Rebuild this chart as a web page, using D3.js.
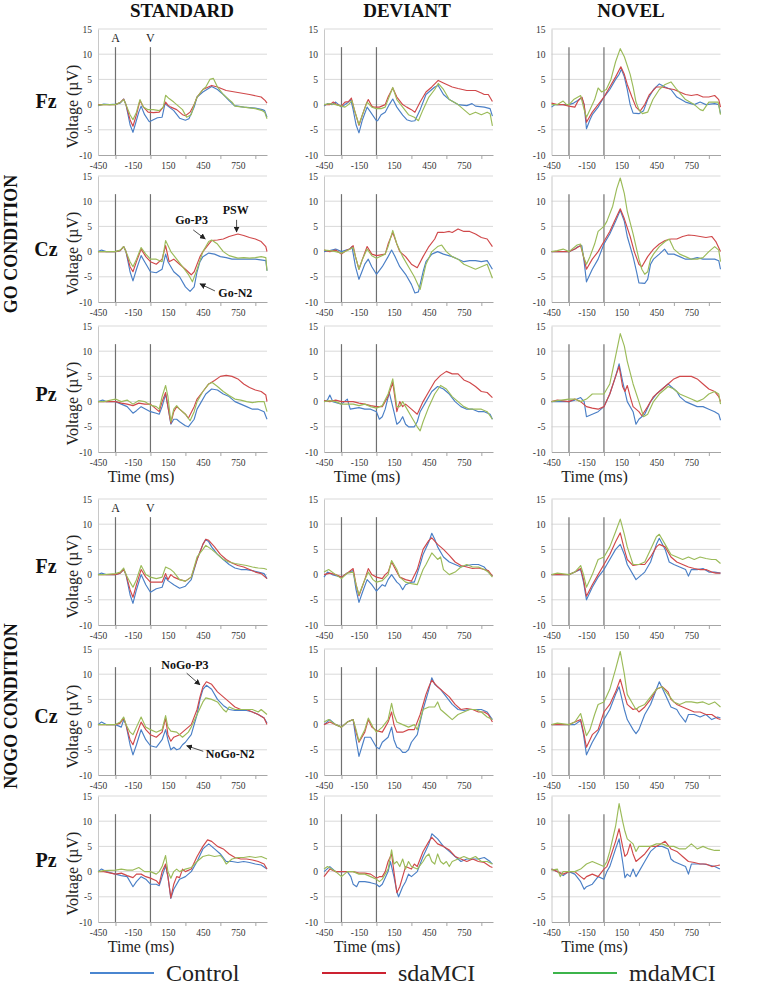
<!DOCTYPE html>
<html><head><meta charset="utf-8">
<script src="https://cdn.jsdelivr.net/npm/d3@7"></script>
<style>body{margin:0;background:#fff} svg{display:block}</style>
</head><body><svg id="chart" width="762" height="988"></svg>
<script>
// ---------- categories & labels ----------
const CONDITIONS = ["GO CONDITION", "NOGO CONDITION"];
const STIM_TYPES = ["STANDARD", "DEVIANT", "NOVEL"];
const ELECTRODES = ["Fz", "Cz", "Pz"];
const SERIES = ["Control", "sdaMCI", "mdaMCI"];
const Y_TICKS = [-10, -5, 0, 5, 10, 15];
const X_TICK_LABELS = [-450, -150, 150, 450, 750];
const X_TICK_MARKS = [-300, 0, 300, 600, 900];
const STIMULI = [["A", -300], ["V", 0]];
const STIM_LINE_TOP = 11.4;
const ANNOTATIONS_GO = [["Go-P3", 353, 6.3, 367, 4.3, 470, 2.5], ["PSW", 731, 8.2, 739, 6.3, 739, 3.9], ["Go-N2", 728, -8.2, 553, -7.8, 425, -6.4]];
const ANNOTATIONS_NOGO = [["NoGo-P3", 296, 11.8, 311, 10.2, 425, 7.9], ["NoGo-N2", 684, -5.8, 453, -5.3, 311, -4.2]];

// ---------- series values: [time ms, voltage µV] ----------
const GO_STD_FZ_CTRL=[[-450,-0.2],[-400,0.1],[-350,0],[-300,0.1],[-260,0.3],[-230,1.1],[-210,0],[-175,-4],[-150,-5.5],[-125,-3.5],[-100,-1.5],[-80,-0.3],[-50,-2],[-10,-3.4],[25,-3],[60,-2.6],[100,-2.5],[125,0.2],[150,-0.3],[200,-1.2],[250,-2.7],[300,-3.1],[330,-2.8],[375,-0.5],[400,1.5],[450,2.5],[525,3.6],[575,3],[625,2],[675,0.8],[720,-0.2],[800,-0.5],[900,-0.7],[960,-1],[980,-1.2],[1000,-2.5]];
const GO_STD_FZ_SDA=[[-450,0],[-400,0],[-350,0],[-300,0],[-260,0.4],[-230,1.1],[-210,0],[-175,-3],[-150,-4.3],[-120,-2],[-90,0.8],[-60,-0.5],[-20,-1.5],[25,-1.6],[75,-1.5],[110,-0.5],[130,0.5],[150,-0.1],[175,-0.5],[225,-1],[275,-2],[300,-2.2],[340,-1.5],[375,0],[400,1.5],[450,3],[525,3.8],[575,3.5],[650,2.8],[700,2.6],[750,2.4],[800,2.2],[850,2],[950,1.5],[985,0.8],[1000,0.3]];
const GO_STD_FZ_MDA=[[-450,-0.1],[-400,0],[-350,0],[-300,0],[-260,0.4],[-230,1],[-210,0],[-175,-2],[-150,-3],[-120,-1.5],[-90,1],[-60,-0.5],[-20,-1],[25,-1],[75,-1.2],[110,-0.5],[130,1.85],[160,1.2],[200,0.5],[225,0],[275,-1],[310,-2.5],[350,-2],[375,0],[400,1.5],[450,3],[475,3.5],[510,5],[540,5.2],[575,3.5],[625,2],[675,1],[700,0.5],[725,-0.3],[800,-0.5],[900,-0.8],[960,-1.2],[980,-1.5],[1000,-2.8]];
const GO_DEV_FZ_CTRL=[[-450,-0.3],[-420,0.2],[-380,0],[-350,0.5],[-300,-0.5],[-270,0],[-250,0.3],[-220,1],[-200,-1],[-175,-4],[-150,-5.6],[-120,-3],[-80,-0.5],[-50,-1.5],[0,-3.2],[10,-3.2],[40,-2],[75,-1.5],[110,0],[140,1.1],[175,-0.5],[225,-2.1],[260,-3],[300,-3.3],[330,-3.2],[375,-1],[425,2],[475,3],[500,3.5],[530,3.8],[575,2],[625,1],[700,0],[775,-0.2],[820,0.2],[850,-0.3],[925,-0.5],[975,-0.8],[995,-2.3]];
const GO_DEV_FZ_SDA=[[-450,0],[-400,0],[-370,0.5],[-340,0],[-300,-0.3],[-270,0.5],[-240,0.6],[-215,1.3],[-190,-1],[-150,-4.1],[-120,-2],[-90,0],[-70,1],[-40,-0.3],[-25,-0.5],[25,-0.5],[75,0],[100,1.5],[140,3.3],[175,1.5],[225,0],[260,-0.5],[300,-1],[330,-1.5],[375,0.5],[425,2.5],[475,3.5],[530,4.8],[575,4.3],[650,3.5],[700,3.2],[775,2.8],[850,2.8],[900,2.3],[925,2],[960,2],[995,0.6]];
const GO_DEV_FZ_MDA=[[-450,0],[-400,0.2],[-350,0],[-300,-0.3],[-270,-0.5],[-240,0],[-210,0.8],[-190,-1],[-150,-4],[-120,-2],[-80,0.5],[-40,-0.5],[0,-0.8],[40,-0.8],[75,-0.5],[100,1],[140,3.4],[175,1],[225,-0.5],[275,-2],[325,-2.5],[360,-3.2],[400,-1],[450,1.5],[500,3],[530,4.2],[575,3],[625,1],[700,0],[750,-1],[800,-2],[850,-1.5],[900,-2],[950,-1.5],[975,-1.8],[995,-4.2]];
const GO_NOV_FZ_CTRL=[[-450,-0.5],[-420,0],[-350,0],[-300,0],[-260,0.3],[-225,0.8],[-190,1.4],[-170,0],[-150,-4.8],[-120,-3],[-100,-2],[-50,-0.5],[0,1.5],[50,3],[100,5],[130,6],[150,7],[175,5.5],[200,3],[225,0],[250,-1.7],[300,-1.8],[340,-1.2],[375,1],[425,3],[475,4.1],[525,3.5],[575,3],[625,1.5],[700,0.5],[775,0],[825,0.5],[875,0],[950,0.2],[985,0],[1000,-1.8]];
const GO_NOV_FZ_SDA=[[-450,0.3],[-400,0],[-350,0],[-300,-0.3],[-250,-0.5],[-220,0.8],[-190,1.5],[-170,0],[-150,-3.5],[-100,-1.5],[-50,0],[0,1.5],[50,3.5],[100,5.5],[145,7.5],[175,6],[200,4],[240,1.5],[275,-0.5],[310,-1.3],[350,0],[390,2],[450,3.5],[500,3.5],[550,3.2],[600,3],[650,2.5],[700,2],[750,1.8],[800,2],[850,1.5],[900,1.5],[950,1.8],[985,1],[1000,-0.5]];
const GO_NOV_FZ_MDA=[[-450,0],[-400,0],[-350,0.7],[-320,0],[-300,0],[-260,1],[-200,1.8],[-170,-1],[-150,-2.5],[-120,-1],[-80,1],[-50,3.3],[-20,2.5],[20,3],[60,5],[100,8.5],[140,11.1],[175,9.5],[225,6],[250,3.5],[275,0.5],[300,-1],[330,-1.8],[375,-1.5],[420,1],[475,3],[525,4],[575,4.5],[625,3],[700,1],[775,0],[825,-1],[850,-1.2],[900,0.5],[950,0.5],[980,0.5],[1000,-2]];
const GO_STD_CZ_CTRL=[[-450,0],[-420,0.3],[-380,0],[-300,0],[-260,0.2],[-230,1],[-210,0],[-175,-4],[-150,-5.8],[-120,-3.5],[-80,-0.8],[-50,-2],[0,-4],[50,-4.2],[100,-3.5],[130,-0.5],[150,-2],[200,-4],[250,-5],[300,-7],[340,-7.9],[375,-7],[400,-4],[425,-2],[450,-1],[500,-0.3],[550,-0.5],[600,-1],[650,-1.2],[700,-1.5],[800,-1.5],[900,-1.5],[990,-1.8],[1000,-3.8]];
const GO_STD_CZ_SDA=[[-450,0],[-400,0],[-300,0],[-260,0.2],[-230,1],[-210,0],[-175,-3],[-150,-4],[-120,-2],[-80,0.5],[-40,-1],[0,-2],[50,-2.5],[100,-1.5],[130,1.2],[160,-2],[200,-1.5],[250,-2.5],[300,-3.5],[350,-4.6],[375,-4],[425,-1],[450,0],[500,1.5],[525,2.2],[575,2.3],[625,2.5],[675,3],[750,3.5],[800,3.2],[850,2.8],[900,2.5],[950,2],[990,1],[1000,0]];
const GO_STD_CZ_MDA=[[-450,0],[-400,0],[-300,0],[-260,0.3],[-230,1],[-210,0],[-175,-2],[-150,-3],[-120,-1.5],[-80,0.8],[-40,-0.5],[0,-1.5],[50,-1.5],[100,-2],[130,2.2],[175,0],[225,-1.5],[275,-3],[325,-4.5],[360,-6],[400,-3.5],[450,0],[500,2],[525,2.3],[575,1.5],[625,0],[675,-0.8],[750,-1.3],[800,-1.2],[850,-1.3],[900,-1.2],[950,-1],[990,-1.2],[1000,-3.8]];
const GO_DEV_CZ_CTRL=[[-450,0],[-400,0.2],[-350,0.5],[-300,0],[-260,0.3],[-230,0.5],[-210,1],[-180,-3],[-150,-5.5],[-100,-2.5],[-70,-1.5],[-40,-3],[0,-4.5],[50,-3],[100,-1],[130,0.3],[160,-1],[200,-3],[250,-4.5],[300,-6.5],[330,-8.2],[360,-8],[400,-4],[425,-2],[475,-0.5],[525,0],[575,-0.5],[650,-1],[700,-1.5],[750,-2],[800,-1.8],[850,-1.8],[900,-2],[950,-1.8],[995,-3.5]];
const GO_DEV_CZ_SDA=[[-450,0.3],[-400,0],[-350,0.3],[-300,-0.5],[-260,0.2],[-230,0.5],[-200,1.2],[-180,-1],[-150,-3.5],[-120,-1.5],[-80,1],[-40,-0.5],[0,-0.8],[75,-0.5],[100,1.5],[140,3.8],[175,1.5],[200,0],[250,-1],[300,-2.5],[350,-3.2],[400,-1],[450,1],[500,2.5],[525,3.8],[575,3.8],[625,4],[650,3.8],[700,4.5],[750,4],[800,4],[850,3.5],[900,2.8],[950,2.5],[995,1]];
const GO_DEV_CZ_MDA=[[-450,0.3],[-400,0.2],[-350,0],[-300,-0.3],[-250,0.2],[-200,0.8],[-180,-1],[-150,-3.5],[-120,-1.5],[-80,0.5],[-40,-0.8],[0,-1.3],[75,-0.5],[100,1],[140,4.2],[175,1.5],[225,-1],[275,-3],[325,-5],[375,-7.5],[400,-5],[425,-2.5],[475,0],[525,1],[560,1.3],[600,0],[650,-1],[700,-1.5],[750,-2.5],[800,-3],[850,-3.5],[900,-3],[950,-2.5],[995,-5.3]];
const GO_NOV_CZ_CTRL=[[-450,0],[-400,0],[-300,0],[-250,0.5],[-220,1],[-190,1.2],[-170,-2],[-150,-6],[-100,-3.5],[-50,-1.5],[0,1.5],[50,3.5],[100,6],[140,8.2],[175,6],[200,3],[250,-1],[280,-4],[300,-6.2],[350,-6.3],[375,-5.5],[400,-2.5],[425,-1.5],[475,-0.5],[520,0.5],[550,-0.5],[600,-0.5],[650,-1],[700,-1.5],[750,-1.5],[800,-1.2],[850,-1.5],[900,-1.5],[950,-1.5],[985,-1.8],[1000,-3.5]];
const GO_NOV_CZ_SDA=[[-450,0],[-400,0],[-300,0],[-250,0.5],[-200,1.2],[-175,-1],[-150,-3.5],[-100,-1.5],[-50,0],[0,2],[50,4],[100,6.5],[140,8.5],[175,6.5],[225,3],[260,0],[300,-2.5],[325,-3],[375,-1],[425,0.5],[475,1.5],[525,2.2],[575,2.5],[625,2.5],[675,3],[725,3.3],[775,3.2],[825,3],[875,2.8],[925,3],[960,2],[1000,0]];
const GO_NOV_CZ_MDA=[[-450,0],[-400,0.2],[-350,0.5],[-300,0],[-230,1.3],[-200,1.5],[-175,-1],[-150,-2.5],[-120,-1],[-80,1.5],[-50,4],[0,5],[25,6],[75,9],[110,12.5],[140,14.6],[175,11.5],[200,8],[250,3.5],[300,-1.5],[325,-3.5],[350,-4.5],[375,-4],[400,-1.5],[425,-0.5],[475,1],[525,2],[560,2.5],[600,0.5],[650,-0.5],[700,-1],[750,-1.5],[800,-1.5],[850,-1.2],[900,0],[950,1],[985,0.3],[1000,-2]];
const GO_STD_PZ_CTRL=[[-450,0],[-410,0.3],[-380,0],[-300,0],[-250,-0.5],[-200,-1],[-150,-2.3],[-120,-1.8],[-80,-1],[-40,-1.5],[0,-2],[50,-2.3],[75,-2.5],[100,-1],[130,1.5],[150,-1],[175,-4.5],[200,-3.5],[225,-3.5],[250,-4],[300,-4.8],[325,-5],[375,-3.5],[400,-1.5],[425,-0.5],[475,1.5],[525,2.5],[575,2.3],[625,1.5],[675,1],[725,0],[775,-0.5],[825,-1],[875,-1.5],[925,-1.5],[975,-2],[1000,-3.5]];
const GO_STD_PZ_SDA=[[-450,0],[-400,0],[-300,0],[-250,-0.3],[-200,-0.5],[-150,-0.8],[-100,-0.3],[-50,-0.5],[0,-0.5],[50,-1.5],[75,-2],[100,0],[130,1.8],[150,-1],[175,-4.3],[200,-2],[225,-1],[250,-1.5],[300,-2.5],[325,-3.3],[375,-1],[400,0.5],[450,2],[500,3.5],[550,4.2],[600,5],[650,5.2],[700,5],[750,4.5],[800,3.5],[850,2.8],[900,2.3],[950,2],[990,1.3],[1000,0]];
const GO_STD_PZ_MDA=[[-450,0],[-400,0],[-300,0.5],[-250,0],[-200,0.3],[-150,-0.5],[-100,0.2],[-50,0],[0,-0.7],[50,-1],[75,-1.5],[100,1],[130,3.2],[150,1],[175,-4],[200,-1.5],[225,-0.8],[250,-1.5],[300,-2.5],[340,-3.8],[375,-2],[400,0],[450,2],[500,3.5],[530,3.8],[575,3],[625,2],[675,1.2],[725,0.5],[775,0.3],[825,0],[875,-0.2],[925,0],[975,0],[1000,-2]];
const GO_DEV_PZ_CTRL=[[-450,0],[-420,0.3],[-400,1.3],[-375,0],[-300,-0.5],[-250,0.5],[-225,-1.5],[-150,-1.2],[-100,-1.5],[-50,-1.5],[0,-2],[25,-3.5],[50,-3],[75,-1.5],[110,1.8],[150,-2],[175,-4.5],[200,-4],[225,-3],[250,-4.5],[275,-5],[325,-5],[350,-4],[375,-2],[425,0],[475,2],[525,3],[575,2.5],[625,1.5],[675,0],[725,-1],[775,-1.5],[825,-1.5],[875,-2],[925,-2],[975,-2.5],[995,-3.5]];
const GO_DEV_PZ_SDA=[[-450,0.2],[-400,0],[-350,0.3],[-300,0],[-200,0],[-150,-0.3],[-100,-0.5],[-50,-0.8],[0,-1],[50,-1],[100,1],[140,3.8],[175,-2],[200,0],[225,-1],[250,-0.5],[300,-1.5],[350,-2.5],[400,0],[450,2],[500,4],[550,5.2],[600,6],[650,5.5],[700,5.5],[750,4.3],[800,3.8],[850,3],[900,2],[950,1.8],[995,0.8]];
const GO_DEV_PZ_MDA=[[-450,0],[-400,0.2],[-350,0],[-300,-0.5],[-200,-0.5],[-150,-0.8],[-100,-0.5],[-50,-1],[0,-1.3],[50,-0.8],[100,1.5],[140,4.5],[175,-1],[200,-1],[225,0],[250,-1],[300,-3],[350,-5],[375,-5.8],[400,-4],[450,-1],[500,1.5],[550,3.2],[600,2.5],[650,1],[700,0],[750,-1],[800,-1.5],[850,-1.5],[900,-1.5],[950,-2],[995,-3.5]];
const GO_NOV_PZ_CTRL=[[-450,0],[-400,0],[-300,0],[-250,0.3],[-200,0.8],[-170,0],[-150,-3],[-100,-2.5],[-50,-2],[0,-1],[50,1.5],[100,5],[130,7.5],[160,4],[200,0],[250,-2],[275,-4.5],[300,-3.5],[325,-3],[350,-2.5],[400,0],[450,1.5],[500,2.5],[550,3.5],[575,3],[625,2],[650,1],[700,0],[750,-0.5],[800,-1],[850,-1],[900,-1.5],[950,-2],[985,-2.5],[1000,-3.7]];
const GO_NOV_PZ_SDA=[[-450,0],[-400,0.3],[-300,0],[-250,0.5],[-200,0],[-150,-1],[-100,-1.3],[-50,-1.5],[0,-1],[50,1.5],[100,5],[130,7],[160,3],[180,2],[200,3.2],[225,1],[250,-1],[300,-2],[325,-2.8],[375,-1],[425,1],[475,2],[550,3.5],[600,4.5],[650,5],[700,5],[750,5],[800,4.5],[850,3.5],[900,2.5],[950,2],[985,1],[1000,0]];
const GO_NOV_PZ_MDA=[[-450,0],[-400,0.2],[-300,0.5],[-250,0.5],[-200,0],[-150,0.5],[-100,1.5],[-50,1.5],[0,1.5],[50,3.5],[100,9],[140,13.5],[175,11],[200,8],[250,3.5],[300,0],[340,-3],[375,-2.5],[425,0],[475,1.5],[550,3],[600,2.5],[650,1.5],[700,1],[750,0.5],[800,0],[850,0.5],[900,1.5],[950,2],[985,1.5],[1000,-0.5]];

const NOGO_STD_FZ_CTRL=[[-450,0],[-420,0.3],[-380,0],[-300,0],[-260,0.3],[-230,1],[-210,0],[-175,-4],[-150,-5.7],[-120,-3],[-80,0],[-40,-2],[0,-3.5],[50,-2.8],[100,-2.5],[130,-0.5],[150,-1.2],[200,-2],[250,-2.7],[300,-2.3],[350,-1],[400,3],[425,4.5],[450,6],[475,7],[500,6.5],[525,5.5],[575,4],[625,3],[675,2],[725,1.3],[775,1],[825,1],[875,0.8],[925,0.5],[975,0.2],[1000,-0.8]];
const NOGO_STD_FZ_SDA=[[-450,0],[-400,0],[-300,0],[-260,0.3],[-230,1],[-210,0],[-175,-3],[-150,-4.5],[-120,-2],[-80,1],[-40,-0.5],[0,-1.5],[50,-1.5],[100,-1.5],[130,0.2],[150,-1],[175,0],[200,-0.5],[250,-1],[300,-1.3],[350,-0.5],[400,3],[450,6],[475,7],[500,6.8],[550,5.5],[600,4],[650,3],[700,2.3],[750,1.8],[800,1.5],[850,1],[900,0.5],[950,0.2],[1000,-0.8]];
const NOGO_STD_FZ_MDA=[[-450,0],[-400,0],[-300,0.2],[-260,0.5],[-230,1.3],[-210,0],[-175,-1.5],[-150,-2.5],[-120,-1],[-80,1.8],[-40,0],[0,-0.5],[50,-0.8],[100,-0.5],[130,1.5],[175,1],[200,0.5],[250,-1],[300,-1.3],[350,-0.5],[400,3.5],[450,5],[475,5.8],[525,5],[575,4],[625,3],[675,2.5],[725,2.2],[775,2],[825,1.8],[875,1.5],[925,1.3],[975,1.2],[1000,1]];
const NOGO_DEV_FZ_CTRL=[[-450,-0.5],[-420,0.5],[-380,0],[-300,-0.5],[-250,0.3],[-200,0.8],[-175,-3],[-150,-5.5],[-120,-3.5],[-80,-1],[-40,-2],[0,-3.3],[50,-2],[75,-2.3],[100,-1],[130,0],[175,-1.5],[200,-2],[225,-3],[250,-2],[300,-1.5],[325,-1.5],[375,2],[400,4],[450,6.5],[475,8.2],[500,7],[525,5.5],[575,3.5],[625,2.5],[675,2],[725,1.5],[775,1.8],[825,2],[875,2],[925,1.5],[960,0.5],[995,-0.3]];
const NOGO_DEV_FZ_SDA=[[-450,0],[-400,0.3],[-350,0],[-300,-0.5],[-250,0.3],[-200,1.2],[-175,-2],[-150,-4.2],[-100,-1],[-70,1.2],[-40,0],[0,-0.5],[50,-0.8],[75,0],[100,0.5],[130,2.5],[175,0.5],[200,-0.5],[250,-1],[300,-1.3],[350,1],[400,5],[450,6.8],[475,7.3],[525,6],[575,5],[625,3.8],[675,2.5],[725,1.8],[775,1.5],[825,1.2],[875,1.3],[925,1],[960,0.8],[995,-0.3]];
const NOGO_DEV_FZ_MDA=[[-450,0.5],[-410,1],[-350,0],[-300,-0.8],[-250,0.3],[-200,0.5],[-175,-2],[-150,-4],[-100,-1],[-70,0.5],[-30,-1],[0,-1.5],[50,-1.2],[100,0],[130,2.8],[175,1],[200,-0.5],[250,-1.5],[300,-1.8],[350,-2],[400,1],[425,2],[475,4.3],[525,3],[550,3.5],[575,1],[625,0],[675,0.5],[725,1.5],[775,2],[825,1.5],[875,1.5],[925,1],[960,0.5],[995,-0.5]];
const NOGO_NOV_FZ_CTRL=[[-450,0],[-400,0],[-300,0],[-250,0.5],[-200,1],[-175,-1.5],[-150,-5],[-100,-2.5],[-50,-0.5],[0,1],[50,3],[100,5],[140,6],[175,4],[200,2],[250,0],[275,-1],[300,-0.5],[350,0.5],[400,2.5],[450,6],[475,7.2],[525,5],[560,2.5],[600,2],[650,1.5],[700,1],[725,-0.3],[750,1],[800,1],[850,1.2],[900,0.5],[950,0.5],[1000,0.3]];
const NOGO_NOV_FZ_SDA=[[-450,0],[-400,0],[-300,0],[-250,0.5],[-200,1.2],[-175,-1],[-150,-4.3],[-100,-2],[-50,0],[0,2],[50,4],[100,6.5],[140,8.3],[175,5],[200,3],[250,1.8],[300,2],[350,2],[400,3.5],[450,5.5],[475,6],[525,5.5],[575,3.5],[625,2.5],[675,2],[725,1.5],[775,1.2],[825,1],[875,1],[925,0.5],[960,0.3],[1000,0.3]];
const NOGO_NOV_FZ_MDA=[[-450,0],[-400,0.3],[-300,0],[-250,0.5],[-200,1.8],[-175,0],[-150,-2.5],[-100,0],[-50,3],[0,3.5],[50,5.5],[100,8.5],[140,11],[175,8],[200,5.5],[250,2],[300,2],[350,2.5],[400,5],[450,7.5],[475,8],[525,6],[575,4],[625,3.5],[675,3],[725,3.5],[775,3],[825,3.5],[875,3.2],[925,3],[960,3],[1000,2.2]];
const NOGO_STD_CZ_CTRL=[[-450,0],[-420,0.5],[-380,0],[-300,0],[-250,-0.5],[-230,1],[-210,0],[-175,-4],[-150,-6],[-120,-4],[-80,-1],[-40,-3],[0,-4.2],[50,-4.5],[100,-3],[130,-1],[150,-3],[175,-5],[200,-4.5],[225,-5],[250,-4.8],[275,-4],[300,-3.5],[350,-2],[400,2],[425,5],[450,7],[480,7.8],[525,7],[575,5],[625,3.8],[675,3],[725,2.8],[775,2.8],[825,2.8],[875,2.5],[925,2],[975,1.3],[1000,0.3]];
const NOGO_STD_CZ_SDA=[[-450,0],[-400,0],[-300,0],[-260,0.3],[-230,1.3],[-210,0],[-175,-3],[-150,-4],[-120,-2],[-80,0.5],[-40,-1],[0,-2],[50,-2.5],[100,-1.5],[130,1.3],[150,-2],[175,-3.3],[200,-2.5],[250,-2],[300,-1],[350,0],[400,3],[425,5.5],[450,7.5],[480,8.5],[525,8],[575,6.5],[625,5.5],[675,4.5],[725,3.5],[775,3],[825,3],[875,2.5],[925,2],[975,1.3],[1000,0]];
const NOGO_STD_CZ_MDA=[[-450,0],[-400,0],[-300,0],[-260,0.5],[-230,1.5],[-210,0],[-175,-1.5],[-150,-2],[-120,-0.5],[-80,1.5],[-40,-0.5],[0,-1],[50,-1.5],[100,-1],[130,1.8],[150,-0.5],[175,-1.3],[225,-1.5],[275,-2.5],[325,-1.5],[350,-0.5],[400,2],[450,4.5],[475,5.3],[525,5],[575,4.5],[625,3],[650,2.5],[675,3.5],[725,3],[775,3],[825,3],[875,3],[925,2.5],[950,3],[975,2.5],[1000,2]];
const NOGO_DEV_CZ_CTRL=[[-450,0],[-400,1],[-350,0],[-300,-0.5],[-250,0.5],[-200,1],[-175,-3],[-150,-6.3],[-120,-4],[-100,-2.5],[-50,-2.5],[0,-4.5],[25,-4.8],[50,-3.5],[100,-2.5],[130,-0.5],[150,-3],[175,-4.5],[200,-4.8],[225,-5.5],[250,-5.5],[275,-5],[300,-3.5],[350,-2],[400,3],[450,7],[475,9.3],[500,8],[550,7],[600,5.5],[650,4],[700,3],[750,2.8],[800,3],[850,3],[900,3],[950,2.5],[995,1]];
const NOGO_DEV_CZ_SDA=[[-450,0],[-400,0.5],[-350,0],[-300,-0.5],[-250,0.5],[-200,1],[-175,-1.5],[-150,-3.5],[-100,-1.5],[-70,1],[-40,-0.5],[0,-1.2],[50,-1.5],[75,-0.5],[100,0.5],[130,2.5],[150,0],[175,-1.5],[225,-1.5],[275,-1],[325,-1],[375,2],[425,6],[450,7.5],[475,8.8],[525,7.5],[575,6.5],[625,5.5],[675,4],[725,3],[775,3.2],[825,3],[875,2.5],[925,2.5],[960,2],[995,0.5]];
const NOGO_DEV_CZ_MDA=[[-450,0.5],[-410,1],[-350,0],[-300,-0.5],[-250,0.5],[-200,1],[-175,-1],[-150,-3.3],[-100,-1],[-70,1.3],[-30,-0.5],[0,-1.5],[50,-0.5],[100,1],[130,4.2],[150,2],[175,0.5],[225,0],[275,-0.5],[325,0],[350,-1],[375,1],[400,3],[450,3.5],[500,3.5],[525,4.5],[550,3],[600,2],[650,1],[700,2],[750,2.5],[800,3],[850,3],[900,2.5],[950,1.5],[995,1]];
const NOGO_NOV_CZ_CTRL=[[-450,0],[-400,0],[-300,0],[-250,0],[-200,0.8],[-175,-2],[-150,-6],[-100,-3.5],[-50,-1.5],[0,1],[50,3],[100,6],[130,7.5],[175,3],[200,1],[250,-1],[275,-1.8],[300,-1],[350,2],[400,4],[450,7],[475,8.5],[525,6],[575,3.5],[625,3],[650,2],[700,0.5],[725,2],[775,2],[825,1.5],[875,2],[925,1],[975,1.5],[1000,1.3]];
const NOGO_NOV_CZ_SDA=[[-450,0],[-400,0],[-300,0],[-250,0.5],[-200,1],[-175,-1.5],[-150,-4.5],[-100,-2],[-50,-1],[0,2.5],[50,4],[100,6.5],[140,9],[175,6],[200,4],[250,3],[275,3.2],[300,2.5],[350,3.5],[400,5],[450,7],[500,7.5],[550,6.5],[575,5],[625,4],[675,3.5],[725,3],[775,2.5],[825,2.5],[875,2],[925,2],[975,1.2],[1000,1]];
const NOGO_NOV_CZ_MDA=[[-450,0],[-400,0.3],[-300,0],[-250,0.5],[-200,2.2],[-175,0],[-150,-2.2],[-120,-1],[-80,2],[-50,4],[0,4.5],[50,7],[100,11],[140,14.5],[175,10],[200,6],[250,4],[275,3],[300,3.5],[350,4],[400,5.5],[450,7],[500,7.5],[550,6],[600,4.5],[650,4],[700,4.5],[750,4.5],[800,4.3],[850,4.5],[900,4],[950,4.5],[1000,3.5]];
const NOGO_STD_PZ_CTRL=[[-450,0],[-420,0.5],[-380,0],[-300,-0.5],[-250,-0.8],[-200,-1],[-150,-3],[-120,-2],[-80,-1],[-40,-1.5],[0,-2.5],[50,-2.5],[75,-2.8],[100,-1],[130,1.2],[150,-1],[175,-5.3],[200,-3.5],[250,-1.5],[300,-1],[350,0],[400,2],[450,4.5],[500,5.5],[550,4.5],[600,3.5],[650,2],[700,2],[750,1.8],[800,2],[850,1.8],[900,1.5],[950,1.3],[1000,0.5]];
const NOGO_STD_PZ_SDA=[[-450,0],[-400,0],[-300,-0.5],[-250,-0.3],[-200,-0.8],[-150,-1.2],[-120,-0.5],[-80,-0.5],[-40,-1],[0,-1.3],[50,-1.8],[75,-2.5],[100,0],[130,1.5],[150,-1],[175,-5.2],[200,-2.5],[225,-1],[250,-1.2],[275,0.5],[300,0],[350,0.5],[400,3],[450,5],[490,6.3],[525,6],[575,5],[625,4.5],[675,3.5],[725,2.8],[775,2.5],[825,2.5],[875,2.3],[925,2],[975,1.5],[1000,0.5]];
const NOGO_STD_PZ_MDA=[[-450,0],[-400,0.2],[-300,0.3],[-250,0.5],[-200,0.3],[-150,0.3],[-100,0.8],[-50,0],[0,0],[50,-0.5],[75,0],[100,1],[130,3.2],[150,0],[175,-1.3],[200,0],[225,0.5],[250,0],[300,0.5],[350,0.8],[400,2],[450,3],[500,3.3],[550,3],[600,3.2],[625,2.5],[650,1.5],[700,2.5],[750,2.8],[800,2.8],[850,3],[900,2.8],[950,3],[1000,2.5]];
const NOGO_DEV_PZ_CTRL=[[-450,0],[-400,1],[-350,0],[-300,0],[-250,0],[-220,-1],[-200,-2.5],[-170,-3],[-150,-2],[-100,-2],[-50,-2.2],[0,-2.5],[25,-3],[50,-2.5],[100,0],[120,2],[150,-1],[175,-4],[190,-5],[225,-3],[250,-2],[275,-0.5],[300,-1],[350,0],[400,3],[450,5.5],[475,7.5],[525,6.5],[575,5],[625,4],[675,3],[725,2],[775,2.5],[825,2.5],[875,2.5],[925,2.8],[975,2],[995,1.5]];
const NOGO_DEV_PZ_SDA=[[-450,-1],[-400,0.5],[-350,0],[-300,0],[-250,0],[-200,0],[-150,-0.3],[-100,-0.3],[-50,-0.5],[0,-1.3],[25,-1],[50,-1],[75,0],[100,2],[130,3.5],[150,0],[175,-4.2],[200,-3],[225,-1],[250,1],[300,0.5],[325,1.5],[350,1],[400,4],[450,6],[475,6.8],[525,5.5],[575,5],[625,4.3],[675,3],[725,2.5],[775,2],[825,2.5],[875,2],[925,1.8],[975,1],[995,0.8]];
const NOGO_DEV_PZ_MDA=[[-450,0.5],[-420,1],[-350,0],[-300,-1],[-250,0],[-200,0],[-150,-0.5],[-100,-0.5],[-50,-1],[0,-1.5],[25,-2],[50,-1.5],[100,0.5],[130,4.3],[150,1.5],[175,2],[200,1],[225,2.5],[250,0.5],[275,2],[300,1],[350,0.5],[400,2],[425,3],[450,3.5],[475,2],[500,1.5],[525,3.5],[550,2],[575,1.5],[600,2],[625,1],[650,2],[700,2.5],[750,3],[800,2.5],[850,3],[900,2],[950,2],[995,1.5]];
const NOGO_NOV_PZ_CTRL=[[-450,0.5],[-400,0],[-350,-0.8],[-300,0],[-250,-0.5],[-200,-2],[-170,-3.5],[-150,-3],[-100,-2.5],[-50,-1],[0,-1.5],[25,0],[50,1],[100,4.5],[130,6.5],[160,2],[180,-1.2],[200,-0.5],[225,-1],[250,0.5],[275,-1],[300,0],[350,2],[400,4],[450,5],[500,5],[550,4.5],[575,2.5],[600,2],[650,1.5],[700,1],[725,-0.5],[750,1.5],[800,1.5],[850,1.5],[900,1.3],[950,1],[995,0.5]];
const NOGO_NOV_PZ_SDA=[[-450,0.5],[-400,0],[-350,-0.5],[-300,0],[-250,0],[-200,-1],[-170,-1.5],[-150,-1],[-100,-0.5],[-50,-1],[0,0.5],[25,1],[50,2.5],[100,6],[130,8.5],[160,5],[180,3],[200,3.5],[225,5.5],[250,3.5],[275,2],[300,2.5],[350,3.5],[400,5],[450,5],[525,6],[575,4.5],[625,4],[675,3],[725,2],[775,1.8],[825,1.5],[875,1.5],[925,1],[975,1.2],[995,1.3]];
const NOGO_NOV_PZ_MDA=[[-450,0.3],[-400,0.5],[-375,-1],[-350,0],[-300,0],[-250,0],[-200,0.5],[-150,1.5],[-100,2],[-50,1.5],[0,1],[25,2],[50,4],[100,9],[130,13.5],[160,10],[180,8],[200,6.5],[250,5.5],[275,4],[300,5],[350,5],[400,5],[450,5.5],[500,5.5],[550,5],[600,5],[650,4.5],[700,4.5],[750,5.5],[800,4.5],[850,5],[900,4.5],[950,4.2],[995,4.2]];

// panel lookup [condition][electrode][stimulus] -> [control, sdaMCI, mdaMCI]
const PANELS = [
  [
    [[GO_STD_FZ_CTRL,GO_STD_FZ_SDA,GO_STD_FZ_MDA],[GO_DEV_FZ_CTRL,GO_DEV_FZ_SDA,GO_DEV_FZ_MDA],[GO_NOV_FZ_CTRL,GO_NOV_FZ_SDA,GO_NOV_FZ_MDA]],
    [[GO_STD_CZ_CTRL,GO_STD_CZ_SDA,GO_STD_CZ_MDA],[GO_DEV_CZ_CTRL,GO_DEV_CZ_SDA,GO_DEV_CZ_MDA],[GO_NOV_CZ_CTRL,GO_NOV_CZ_SDA,GO_NOV_CZ_MDA]],
    [[GO_STD_PZ_CTRL,GO_STD_PZ_SDA,GO_STD_PZ_MDA],[GO_DEV_PZ_CTRL,GO_DEV_PZ_SDA,GO_DEV_PZ_MDA],[GO_NOV_PZ_CTRL,GO_NOV_PZ_SDA,GO_NOV_PZ_MDA]]
  ],
  [
    [[NOGO_STD_FZ_CTRL,NOGO_STD_FZ_SDA,NOGO_STD_FZ_MDA],[NOGO_DEV_FZ_CTRL,NOGO_DEV_FZ_SDA,NOGO_DEV_FZ_MDA],[NOGO_NOV_FZ_CTRL,NOGO_NOV_FZ_SDA,NOGO_NOV_FZ_MDA]],
    [[NOGO_STD_CZ_CTRL,NOGO_STD_CZ_SDA,NOGO_STD_CZ_MDA],[NOGO_DEV_CZ_CTRL,NOGO_DEV_CZ_SDA,NOGO_DEV_CZ_MDA],[NOGO_NOV_CZ_CTRL,NOGO_NOV_CZ_SDA,NOGO_NOV_CZ_MDA]],
    [[NOGO_STD_PZ_CTRL,NOGO_STD_PZ_SDA,NOGO_STD_PZ_MDA],[NOGO_DEV_PZ_CTRL,NOGO_DEV_PZ_SDA,NOGO_DEV_PZ_MDA],[NOGO_NOV_PZ_CTRL,NOGO_NOV_PZ_SDA,NOGO_NOV_PZ_MDA]]
  ]
];

// ---------- layout & style ----------
const SERIF = "'Liberation Serif','Times New Roman',serif";
const LINE_COLORS = ["#4a7fc6", "#d0484a", "#9bbb59"];
const LEGEND_COLORS = ["#4a86d0", "#cc2231", "#3cb44b"];
const COL_LEFT = [98, 324, 551.5];
const PLOT_W = 169, PLOT_H = 126;
const ROW_TOP = [29, 176, 326, 499, 649, 796];
const ROW_LABEL_Y = [108, 256, 401, 573, 723, 867];
const TITLE_X = [182, 407, 631];
const COND_Y = [244, 706];

const svg = d3.select("#chart");
const defs = svg.append("defs");
defs.append("marker").attr("id", "arrow").attr("viewBox", "0 0 10 10")
  .attr("refX", 9).attr("refY", 5).attr("markerWidth", 6).attr("markerHeight", 6)
  .attr("markerUnits", "userSpaceOnUse").attr("orient", "auto")
  .append("path").attr("d", "M0,0L10,5L0,10z").attr("fill", "#222");

const x = d3.scaleLinear().domain([-450, 1000]).range([0, PLOT_W]);
const y = d3.scaleLinear().domain([-10, 15]).range([PLOT_H, 0]);
const line = d3.line().x(d => x(d[0])).y(d => y(d[1]));

// column titles
STIM_TYPES.forEach((s, i) => {
  svg.append("text").attr("x", TITLE_X[i]).attr("y", 17).attr("text-anchor", "middle")
    .attr("font-family", SERIF).attr("font-weight", "bold").attr("font-size", 19).attr("fill", "#111").text(s);
});
// condition labels
CONDITIONS.forEach((c, i) => {
  svg.append("text").attr("transform", `translate(17,${COND_Y[i]}) rotate(-90)`).attr("text-anchor", "middle")
    .attr("font-family", SERIF).attr("font-weight", "bold").attr("font-size", 18).attr("fill", "#111").text(c);
});

PANELS.forEach((cond, ci) => {
  cond.forEach((elec, ei) => {
    const r = ci * 3 + ei;
    // electrode label
    svg.append("text").attr("x", 46).attr("y", ROW_LABEL_Y[r]).attr("text-anchor", "middle")
      .attr("font-family", SERIF).attr("font-weight", "bold").attr("font-size", 20).attr("fill", "#111").text(ELECTRODES[ei]);
    // y-axis title
    svg.append("text").attr("transform", `translate(78,${ROW_TOP[r] + y(0) + 2}) rotate(-90)`).attr("text-anchor", "middle")
      .attr("font-family", SERIF).attr("font-size", 16).attr("fill", "#222").text("Voltage (\u00B5V)");
    elec.forEach((series, si) => {
      const g = svg.append("g").attr("transform", `translate(${COL_LEFT[si]},${ROW_TOP[r]})`);
      // gridlines
      g.append("g").selectAll("line").data(Y_TICKS.filter(v => v > -10)).join("line")
        .attr("x1", 0).attr("x2", PLOT_W).attr("y1", d => y(d)).attr("y2", d => y(d))
        .attr("stroke", "#d9d9d9").attr("stroke-width", 1);
      // y axis
      const ya = g.append("g").call(d3.axisLeft(y).tickValues(Y_TICKS).tickSize(0).tickPadding(6).tickFormat(d => String(d)));
      ya.select(".domain").attr("stroke", "#c8c8c8");
      ya.selectAll("text").attr("font-family", SERIF).attr("font-size", 9.5).attr("fill", "#333");
      // x axis ticks
      const xa = g.append("g").attr("transform", `translate(0,${PLOT_H})`)
        .call(d3.axisBottom(x).tickValues(X_TICK_MARKS).tickSize(4).tickSizeOuter(0).tickFormat(""));
      xa.select(".domain").attr("stroke", "#a6a6a6");
      xa.selectAll(".tick line").attr("stroke", "#a6a6a6");
      const xl = g.append("g").attr("transform", `translate(0,${PLOT_H})`)
        .call(d3.axisBottom(x).tickValues(X_TICK_LABELS).tickSize(0).tickPadding(7).tickFormat(d => String(d)));
      xl.select(".domain").remove();
      xl.selectAll("text").attr("font-family", SERIF).attr("font-size", 9.5).attr("fill", "#333");
      // stimulus onset lines
      STIMULI.forEach(([lab, t]) => {
        g.append("line").attr("x1", x(t)).attr("x2", x(t)).attr("y1", y(STIM_LINE_TOP)).attr("y2", y(-10))
          .attr("stroke", "#707070").attr("stroke-width", 1.2);
        if (si === 0 && ei === 0) {
          g.append("text").attr("x", x(t)).attr("y", y(STIM_LINE_TOP) - 5).attr("text-anchor", "middle")
            .attr("font-family", SERIF).attr("font-size", 12).attr("fill", "#222").text(lab);
        }
      });
      // waveforms
      series.forEach((data, k) => {
        g.append("path").datum(data).attr("d", line).attr("fill", "none")
          .attr("stroke", LINE_COLORS[k]).attr("stroke-width", 1.15).attr("stroke-linejoin", "round");
      });
      // annotations on standard Cz
      if (si === 0 && ei === 1) {
        const ann = ci === 0 ? ANNOTATIONS_GO : ANNOTATIONS_NOGO;
        ann.forEach(([txt, tx, ty, ax1, ay1, ax2, ay2]) => {
          g.append("text").attr("x", x(tx)).attr("y", y(ty) + 4).attr("text-anchor", "middle")
            .attr("font-family", SERIF).attr("font-weight", "bold").attr("font-size", 12).attr("fill", "#111").text(txt);
          g.append("line").attr("x1", x(ax1)).attr("y1", y(ay1)).attr("x2", x(ax2)).attr("y2", y(ay2))
            .attr("stroke", "#222").attr("stroke-width", 0.8).attr("marker-end", "url(#arrow)");
        });
      }
      // time axis title on bottom row of each condition
      if (ei === 2) {
        g.append("text").attr("x", 43).attr("y", PLOT_H + 30).attr("text-anchor", "middle")
          .attr("font-family", SERIF).attr("font-size", 16).attr("fill", "#222").text("Time (ms)");
      }
    });
  });
});

// legend
const LEG_X = [90, 322, 553];
SERIES.forEach((s, i) => {
  svg.append("line").attr("x1", LEG_X[i]).attr("x2", LEG_X[i] + 64).attr("y1", 973).attr("y2", 973)
    .attr("stroke", LEGEND_COLORS[i]).attr("stroke-width", 2);
  svg.append("text").attr("x", LEG_X[i] + 76).attr("y", 981).attr("font-family", SERIF)
    .attr("font-size", 24).attr("fill", "#222").text(s);
});
</script>
</body></html>
